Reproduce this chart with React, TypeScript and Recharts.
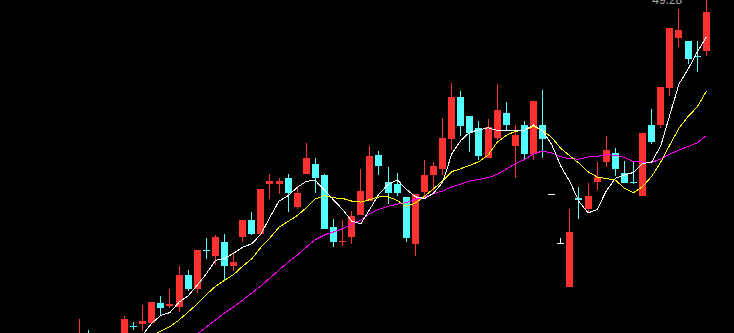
import React from 'react';
import { ComposedChart, Bar, Line, XAxis, YAxis, ReferenceDot } from 'recharts';

// candle index (session number); negative indices sit below the visible window
const sessions = [
  -5, -4, -3, -2, -1,
  0, 1, 2, 3, 4, 5, 6, 7, 8, 9,
  10, 11, 12, 13, 14, 15, 16, 17, 18, 19,
  20, 21, 22, 23, 24, 25, 26, 27, 28, 29,
  30, 31, 32, 33, 34, 35, 36, 37, 38, 39,
  40, 41, 42, 43, 44, 45, 46, 47, 48, 49,
  50, 51, 52, 53, 54, 55, 56, 57, 58, 59,
  60, 61, 62, 63, 64,
];

const openPrices = [
  14.78, 15.68, 14.28, 15.48, 14.08,
  15.28, 16.73, 16.88, 16.98, 18.98, 18.68, 18.58, 21.78, 20.38, 24.28,
  23.68, 25.08, 22.68, 25.58, 27.28, 25.88, 30.88, 30.88, 31.48, 28.58,
  31.88, 32.88, 31.78, 26.58, 25.13, 25.58, 27.78, 29.18, 33.78, 31.08,
  30.88, 29.58, 24.88, 30.08, 31.78, 32.38, 35.38, 39.58, 37.68, 36.48,
  33.48, 35.48, 37.98, 34.68, 36.78, 33.88, 36.78, 29.88, 24.98, 20.58,
  29.43, 28.38, 31.08, 33.08, 33.98, 31.98, 31.08, 29.68, 36.78, 36.78,
  40.48, 45.48, 45.18, 43.73, 44.18,
];

const highPrices = [
  17.38, 16.28, 15.68, 15.78, 15.68,
  17.68, 17.08, 18.78, 19.08, 19.68, 20.38, 22.68, 22.28, 24.28, 25.48,
  25.78, 25.88, 24.08, 27.28, 28.08, 30.38, 31.88, 31.48, 31.88, 30.68,
  34.98, 33.48, 31.88, 27.38, 27.28, 28.18, 32.38, 34.68, 34.18, 32.58,
  31.98, 29.58, 29.88, 33.28, 33.08, 37.48, 40.98, 40.18, 37.68, 37.18,
  37.38, 40.88, 39.08, 36.78, 37.18, 39.18, 40.28, 29.88, 25.48, 28.38,
  30.58, 30.98, 33.08, 35.68, 34.48, 33.18, 33.18, 35.98, 38.38, 40.58,
  46.48, 48.38, 45.18, 45.18, 49.28,
];

const lowPrices = [
  14.28, 14.28, 14.08, 13.78, 13.68,
  15.08, 16.28, 16.18, 16.88, 17.68, 18.48, 18.08, 20.18, 19.98, 23.38,
  22.78, 21.28, 22.18, 25.08, 25.78, 25.88, 29.38, 29.88, 28.08, 28.38,
  31.88, 29.98, 26.38, 24.58, 24.68, 24.88, 27.78, 29.18, 31.78, 28.88,
  29.68, 25.08, 23.68, 29.58, 30.18, 31.78, 34.28, 35.68, 34.08, 33.28,
  33.48, 35.28, 36.28, 31.48, 33.38, 33.28, 33.48, 29.88, 24.98, 20.58,
  27.38, 27.98, 30.28, 32.58, 31.68, 30.98, 30.88, 29.68, 34.88, 36.48,
  39.68, 44.58, 42.88, 42.08, 43.68,
];

const closePrices = [
  15.68, 14.78, 15.28, 14.08, 15.08,
  17.38, 16.63, 17.18, 19.08, 18.48, 18.88, 21.78, 20.38, 24.28, 24.18,
  25.58, 22.68, 23.08, 27.28, 25.88, 30.38, 31.18, 31.18, 29.98, 29.98,
  33.48, 31.48, 26.38, 25.08, 25.23, 27.68, 30.18, 33.68, 32.68, 29.98,
  29.98, 25.48, 29.88, 31.78, 32.68, 35.48, 39.58, 36.68, 35.98, 33.68,
  36.58, 38.28, 36.78, 35.78, 33.88, 39.18, 35.38, 29.88, 24.98, 26.08,
  29.33, 29.68, 31.58, 34.28, 32.38, 30.98, 30.98, 35.98, 35.08, 40.58,
  46.48, 46.28, 43.38, 43.63, 48.08,
];

const ma5 = [
  null, null, null, null, null,
  null, null, 15.78, 16.98, 17.73, 18.03, 19.06, 19.70, 20.76, 21.90,
  23.24, 23.42, 23.96, 24.56, 24.90, 25.86, 27.56, 29.18, 29.72, 30.54,
  31.16, 31.22, 30.26, 29.28, 28.33, 27.17, 26.91, 28.37, 29.89, 30.84,
  31.30, 30.36, 29.60, 29.42, 29.96, 31.06, 33.88, 35.24, 36.08, 36.28,
  36.50, 36.24, 36.26, 36.22, 36.26, 36.78, 36.20, 34.82, 32.66, 31.10,
  29.13, 27.99, 28.33, 30.19, 31.45, 31.78, 32.04, 32.92, 33.08, 34.72,
  37.82, 40.88, 42.36, 44.07, 45.57,
];

const ma10 = [
  null, null, null, null, null,
  null, null, null, 15.73, 16.18, 16.61, 17.28, 18.08, 18.88, 19.81,
  20.64, 21.24, 21.83, 22.66, 23.40, 24.55, 25.49, 26.57, 27.14, 27.72,
  28.51, 29.39, 29.72, 29.50, 29.43, 29.17, 29.07, 29.32, 29.59, 29.59,
  29.24, 28.64, 28.98, 29.66, 30.40, 31.18, 32.12, 32.42, 32.75, 33.12,
  33.78, 35.06, 35.75, 36.15, 36.27, 36.64, 36.22, 35.54, 34.44, 33.68,
  32.96, 32.10, 31.58, 31.43, 31.28, 30.46, 30.02, 30.63, 31.64, 33.09,
  34.80, 36.46, 37.64, 38.58, 40.15,
];

const ma20 = [
  null, null, null, null, null,
  null, null, null, null, null, null, null, 15.28, 15.88, 16.58,
  17.28, 17.98, 18.58, 19.28, 19.98, 20.68, 21.48, 22.28, 23.08, 23.77,
  24.57, 25.32, 25.78, 26.08, 26.42, 26.86, 27.28, 27.94, 28.36, 28.65,
  28.87, 29.01, 29.35, 29.58, 29.92, 30.17, 30.59, 30.87, 31.17, 31.35,
  31.51, 31.85, 32.37, 32.90, 33.33, 33.91, 34.17, 33.98, 33.60, 33.40,
  33.37, 33.58, 33.66, 33.79, 33.77, 33.55, 33.12, 33.08, 33.04, 33.38,
  33.88, 34.28, 34.61, 35.00, 35.71,
];

const maxLabel = '49.28';
const maxSession = 64;
const maxPrice = 49.28;

const data = sessions.map((k, i) => ({
  k,
  open: openPrices[i],
  high: highPrices[i],
  low: lowPrices[i],
  close: closePrices[i],
  ma5: ma5[i],
  ma10: ma10[i],
  ma20: ma20[i],
}));

const UP = '#ff3232';
const DOWN = '#54ffff';
const FLAT = '#ffffff';

const Candle = (props: any) => {
  const { x, width, y, height, payload } = props;
  if (x == null || y == null || !payload) return null;
  const { open, close, high, low } = payload;
  const top = Math.min(y, y + (height || 0));
  const bot = Math.max(y, y + (height || 0));
  const span = high - low;
  const toY = (v: number) => (span === 0 ? top : top + ((high - v) / span) * (bot - top));
  const cx = x + width / 2;
  const left = Math.round(cx - 3.5);
  const color = close > open ? UP : close < open ? DOWN : FLAT;
  const bTop = Math.round(toY(Math.max(open, close)));
  const bBot = Math.round(toY(Math.min(open, close)));
  const h = Math.max(1, bBot - bTop);
  return (
    <g>
      <rect x={left + 3} y={Math.round(toY(high))} width={1} height={Math.max(1, Math.round(toY(low)) - Math.round(toY(high)))} fill={color} shapeRendering="crispEdges" />
      <rect x={left} y={bTop} width={7} height={h} fill={color} shapeRendering="crispEdges" />
    </g>
  );
};

export default function App() {
  return (
    <div style={{ position: 'absolute', left: 0, top: 0, width: 734, height: 333, background: '#000', overflow: 'hidden' }}>
      <ComposedChart width={734} height={333} data={data} margin={{ top: 0, right: 0, bottom: 0, left: 0 }} style={{ background: '#000' }}>
        <XAxis dataKey="k" type="number" domain={[-13.7, 67.05]} hide allowDataOverflow />
        <YAxis type="number" domain={[15.98, 49.28]} hide allowDataOverflow />
        <Bar dataKey={(d: any) => [d.low, d.high]} barSize={7} shape={<Candle />} isAnimationActive={false} />
        <Line type="linear" dataKey="ma20" stroke="#ff00ff" strokeWidth={1} dot={false} isAnimationActive={false} shapeRendering="crispEdges" />
        <Line type="linear" dataKey="ma10" stroke="#ffff00" strokeWidth={1} dot={false} isAnimationActive={false} shapeRendering="crispEdges" />
        <Line type="linear" dataKey="ma5" stroke="#ffffff" strokeWidth={1} dot={false} isAnimationActive={false} shapeRendering="crispEdges" />
        <ReferenceDot
          x={maxSession}
          y={maxPrice}
          r={0}
          fill="none"
          stroke="none"
          ifOverflow="visible"
          label={{ value: maxLabel, position: 'left', offset: 24, fill: '#a8a8a8', fontSize: 12, fontFamily: 'Liberation Sans' }}
        />
      </ComposedChart>
    </div>
  );
}
